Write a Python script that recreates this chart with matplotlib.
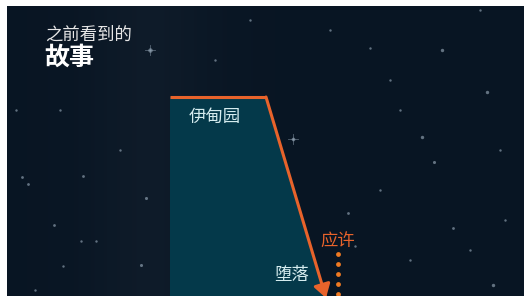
import matplotlib
matplotlib.use('Agg')
import matplotlib.pyplot as plt
import numpy as np
from matplotlib.patches import Polygon, FancyArrowPatch

plt.rcParams['font.family'] = ['Noto Sans CJK SC', 'DejaVu Sans']

# 故事线: 伊甸园 -> 堕落
story_x = [170, 266, 326]
story_y = [97, 97, 298]
# 应许 (虚线)
promise_x = 338
promise_y = [254, 264, 274, 284, 294]

# 星星 (x, y, 大小)
stars = [
    (150, 50, 10), (293, 139, 7), (442, 50, 6), (487, 92, 6), (422, 137, 6),
    (434, 162, 5), (493, 285, 6), (453, 228, 4), (22, 177, 4), (28, 184, 4),
    (83, 176, 4), (146, 198, 5), (54, 225, 4), (96, 241, 3), (141, 265, 5),
    (63, 266, 3), (81, 241, 3), (348, 213, 4), (355, 246, 3), (370, 48, 3),
    (400, 110, 3), (215, 60, 3), (60, 110, 3), (16, 110, 3), (380, 190, 3),
    (470, 250, 3), (505, 220, 3), (410, 260, 3), (120, 150, 3), (330, 30, 3),
    (480, 10, 3), (250, 20, 3), (500, 150, 3), (390, 80, 3), (35, 290, 3),
]

fig = plt.figure(figsize=(5.24, 2.96), dpi=100, facecolor='white')
ax = fig.add_axes([0, 0, 1, 1])
ax.set_xlim(0, 524)
ax.set_ylim(296, 0)
ax.axis('off')

# 背景, 伊甸园左侧微弱光晕
bg = np.zeros((10, 200, 3))
xs = np.linspace(7, 524, 200)
glow = np.exp(-((xs - 150) / 60.0) ** 2) * 0.022
base = np.array([0.035, 0.085, 0.14])
for i in range(200):
    bg[:, i, :] = base + glow[i]
ax.imshow(np.clip(bg, 0, 1), extent=[7, 524, 296, 6], aspect='auto',
          interpolation='bilinear', zorder=0)

for sx, sy, ss in stars:
    ax.scatter(sx, sy, s=ss, color='#9fb0c0', alpha=0.6, linewidths=0, zorder=1)
    if ss >= 7:
        ax.plot([sx - 5, sx + 5], [sy, sy], color='#9fb0c0', lw=0.6, alpha=0.5, zorder=1)
        ax.plot([sx, sx], [sy - 5, sy + 5], color='#9fb0c0', lw=0.6, alpha=0.5, zorder=1)

# 伊甸园区域
poly = Polygon([(story_x[0], 296), (story_x[0], story_y[0]), (story_x[1], story_y[1]),
                (story_x[2], story_y[2]), (story_x[2], 296)],
               closed=True, facecolor='#04394a', edgecolor='none', zorder=2)
ax.add_patch(poly)

orange = '#e8632b'
ax.plot(story_x[:2], story_y[:2], color=orange, lw=2.2, solid_capstyle='butt', zorder=3)
ax.add_patch(FancyArrowPatch((story_x[1], story_y[1]), (story_x[2], story_y[2]),
                             arrowstyle='-|>,head_length=8,head_width=5',
                             color=orange, lw=2.2, shrinkA=0, shrinkB=0, zorder=3))

ax.scatter([promise_x] * len(promise_y), promise_y, s=12, color='#f07a22',
           linewidths=0, zorder=3)

ax.text(45, 35, '之前看到的', color='#e6e6e6', fontsize=12.5, va='center', ha='left')
ax.text(44, 58, '故事', color='white', fontsize=18, fontweight='bold', va='center', ha='left')
ax.text(189, 117, '伊甸园', color='#d5ecef', fontsize=12.5, va='center', ha='left')
ax.text(274, 275, '堕落', color='#d5ecef', fontsize=12.5, va='center', ha='left')
ax.text(320, 241, '应许', color='#e8632b', fontsize=12.5, va='center', ha='left')

fig.savefig('out.png', dpi=100, facecolor='white')
